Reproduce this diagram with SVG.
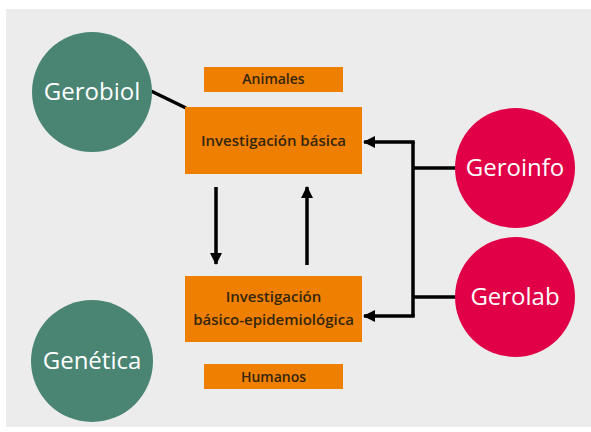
<svg xmlns="http://www.w3.org/2000/svg" width="591" height="432" viewBox="0 0 591 432">
  <style>
    .bg { fill: #ebeceb; }
    .green { fill: #4a8473; }
    .red { fill: #e10048; }
    .box { fill: #ef7f00; }
    .ctext { font-family: "Open Sans", "Noto Sans", sans-serif; font-size: 24px; fill: #ffffff; text-anchor: middle; }
    .btext { font-family: "Open Sans", "Noto Sans", sans-serif; font-size: 15px; font-weight: 600; fill: #33260f; text-anchor: middle; }
    .stext { font-family: "Open Sans", "Noto Sans", sans-serif; font-size: 14px; font-weight: 600; fill: #33260f; text-anchor: middle; }
    .conn { stroke: #000000; stroke-width: 3.5; fill: none; }
  </style>
  <defs>
    <marker id="ah" viewBox="0 0 12 12" refX="11" refY="6" markerWidth="12" markerHeight="12" markerUnits="userSpaceOnUse" orient="auto">
      <path d="M0,0 L12,6 L0,12 Z" fill="#000000"/>
    </marker>
  </defs>
  <rect class="bg" x="6" y="9" width="585" height="418"/>

  <g id="connectors">
    <line class="conn" x1="151" y1="91" x2="186" y2="108"/>
    <line class="conn" x1="216" y1="187" x2="216" y2="264" marker-end="url(#ah)"/>
    <line class="conn" x1="307" y1="265" x2="307" y2="187" marker-end="url(#ah)"/>
    <polyline class="conn" points="413,142 413,316"/>
    <line class="conn" x1="413" y1="168" x2="456" y2="168"/>
    <line class="conn" x1="413" y1="297" x2="456" y2="297"/>
    <line class="conn" x1="414.75" y1="142" x2="364" y2="142" marker-end="url(#ah)"/>
    <line class="conn" x1="414.75" y1="316" x2="364" y2="316" marker-end="url(#ah)"/>
  </g>

  <g id="gerobiol">
    <circle class="green" cx="92" cy="92" r="60"/>
    <text class="ctext" x="92" y="100">Gerobiol</text>
  </g>
  <g id="genetica">
    <circle class="green" cx="92" cy="361" r="61"/>
    <text class="ctext" x="92" y="369">Genética</text>
  </g>
  <g id="geroinfo">
    <circle class="red" cx="515" cy="168" r="60"/>
    <text class="ctext" x="515" y="176">Geroinfo</text>
  </g>
  <g id="gerolab">
    <circle class="red" cx="515" cy="297" r="60"/>
    <text class="ctext" x="515" y="305">Gerolab</text>
  </g>

  <g id="animales">
    <rect class="box" x="204" y="67" width="139" height="25"/>
    <text class="stext" x="273.5" y="84">Animales</text>
  </g>
  <g id="inv-basica">
    <rect class="box" x="185" y="107" width="177" height="67"/>
    <text class="btext" x="273.5" y="146">Investigación básica</text>
  </g>
  <g id="inv-basico-epi">
    <rect class="box" x="185" y="276" width="177" height="66"/>
    <text class="btext" x="273.5" y="302">Investigación</text>
    <text class="btext" x="273.5" y="325">básico-epidemiológica</text>
  </g>
  <g id="humanos">
    <rect class="box" x="204" y="364" width="139" height="25"/>
    <text class="stext" x="273.5" y="382">Humanos</text>
  </g>
</svg>
